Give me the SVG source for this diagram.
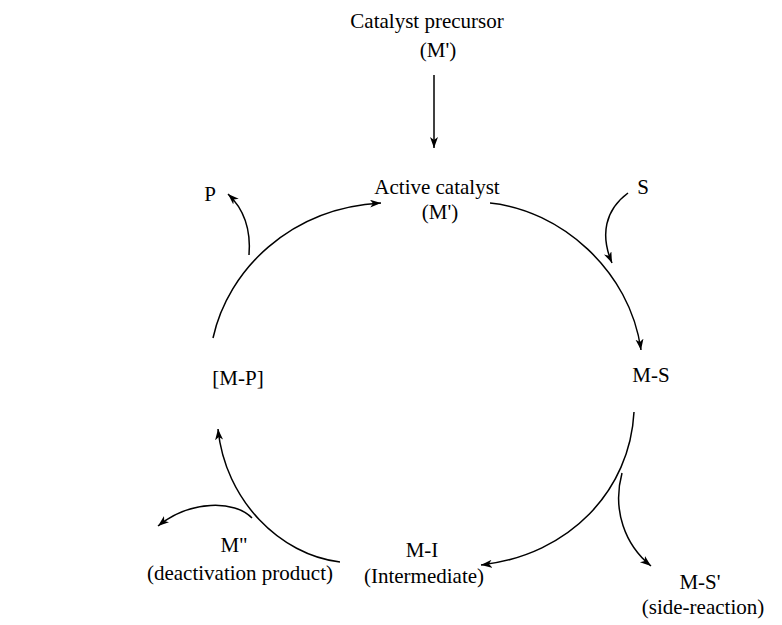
<svg xmlns="http://www.w3.org/2000/svg" width="782" height="625" viewBox="0 0 782 625">
  <style>
    text { font-family: "Liberation Serif", "Times New Roman", serif; font-size: 21px; fill: #000; text-anchor: middle; }
    .conn path { fill: none; stroke: #000; stroke-width: 1.5; }
  </style>
  <defs>
    <marker id="ah" markerUnits="userSpaceOnUse" markerWidth="12" markerHeight="10" refX="11" refY="4" orient="auto">
      <path d="M0,0 L11,4 L0,8 L3,4 Z" fill="#000"/>
    </marker>
  </defs>
  <rect width="782" height="625" fill="#fff"/>

  <g id="precursor">
    <text x="427" y="28">Catalyst precursor</text>
    <text x="438" y="57">(M')</text>
  </g>
  <g id="active">
    <text x="437" y="194">Active catalyst</text>
    <text x="440" y="219">(M')</text>
  </g>
  <g id="substrate"><text x="643" y="194">S</text></g>
  <g id="product"><text x="210" y="201">P</text></g>
  <g id="ms"><text x="651" y="382">M-S</text></g>
  <g id="mp"><text x="238" y="385">[M-P]</text></g>
  <g id="mi">
    <text x="422" y="557">M-I</text>
    <text x="424" y="583">(Intermediate)</text>
  </g>
  <g id="mdeact">
    <text x="234" y="552">M"</text>
    <text x="240" y="580">(deactivation product)</text>
  </g>
  <g id="msprime">
    <text x="700" y="589">M-S'</text>
    <text x="703" y="614">(side-reaction)</text>
  </g>

  <g class="conn" id="connectors">
    <path d="M434,75 L434,148" marker-end="url(#ah)"/>
    <path d="M213,338 C228,270 290,208 381,203" marker-end="url(#ah)"/>
    <path d="M249,255 C251,230 245,210 228,194" marker-end="url(#ah)"/>
    <path d="M490,203 C560,210 630,270 641,350" marker-end="url(#ah)"/>
    <path d="M628,193 C605,210 600,235 612,263" marker-end="url(#ah)"/>
    <path d="M634,412 C630,490 570,555 481,565" marker-end="url(#ah)"/>
    <path d="M622,473 C612,510 625,545 651,566" marker-end="url(#ah)"/>
    <path d="M340,562 C280,555 225,500 218,429" marker-end="url(#ah)"/>
    <path d="M252,518 C235,500 190,500 158,526" marker-end="url(#ah)"/>
  </g>
</svg>
